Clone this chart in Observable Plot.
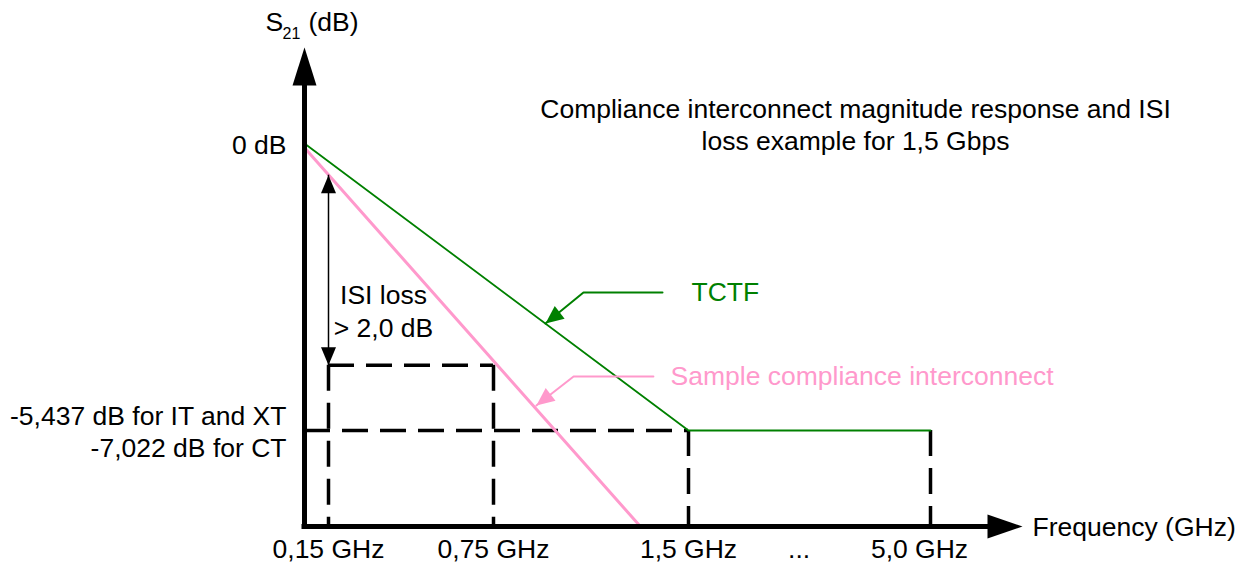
<!DOCTYPE html>
<html>
<head>
<meta charset="utf-8">
<script src="https://cdn.jsdelivr.net/npm/d3@7"></script>
<script src="https://cdn.jsdelivr.net/npm/@observablehq/plot@0.6"></script>
<style>
  html, body { margin: 0; padding: 0; background: #fff; }
</style>
</head>
<body>
<div id="chart"></div>
<script>
// ---- Data (schematic values) ----
// Frequency axis: tick positions (GHz) and their labels ("..." marks the broken axis)
const tickFreqs = [0.15, 0.75, 1.5, 3.1, 5.0];
const tickLabels = ["0,15 GHz", "0,75 GHz", "1,5 GHz", "...", "5,0 GHz"];
// S21 axis ticks (dB) and labels
const yTickValues = [0, -5.437];
const yTickLabels = ["0 dB", "-5,437 dB for IT and XT\n-7,022 dB for CT"];
// TCTF curve
const tctfFreq = [0, 1.5, 5.0];
const tctfDb = [0, -5.437, -5.437];
// Sample compliance interconnect
const sampleFreq = [0, 1.315];
const sampleDb = [-0.08, -7.6];
// ISI loss markers
const isiFreqs = [0.15, 0.75];
const isiTopDb = -0.6;
const isiLevelDb = -4.2;
const floorDb = -5.437;
const axisMinDb = -7.6;
const floorFreqs = [1.5, 5.0];
// Annotation leaders (label end, elbow, arrow tip) in GHz / dB
const tctfLeaderFreq = [1.40, 1.096, 0.95];
const tctfLeaderDb = [-2.822, -2.822, -3.41];
const sampleLeaderFreq = [1.365, 1.058, 0.915];
const sampleLeaderDb = [-4.414, -4.414, -4.963];
const tctfLabel = {freq: 1.543, db: -2.822, text: "TCTF"};
const sampleLabel = {freq: 1.431, db: -4.414, text: "Sample compliance interconnect"};
const isiLabel = {freq: 0.35, db: -3.154, text: "ISI loss\n> 2,0 dB"};
const titleText = "Compliance interconnect magnitude response and ISI\nloss example for 1,5 Gbps";

// ---- Tables built from the arrays ----
const xTicks = tickFreqs.map((f, i) => ({f, label: tickLabels[i]}));
const yTicks = yTickValues.map((v, i) => ({v, label: yTickLabels[i]}));
const tctf = tctfFreq.map((f, i) => ({f, db: tctfDb[i]}));
const sample = sampleFreq.map((f, i) => ({f, db: sampleDb[i]}));
const tctfLeader = tctfLeaderFreq.map((f, i) => ({f, db: tctfLeaderDb[i]}));
const sampleLeader = sampleLeaderFreq.map((f, i) => ({f, db: sampleLeaderDb[i]}));
const lastFreq = tickFreqs[tickFreqs.length - 1];

// ---- Styles ----
const GREEN = "#008000";
const PINK = "#ff99cc";
const FONT = "Liberation Sans, Arial, Helvetica, sans-serif";
const FS = 26.5;
const dash = "26,12";

// filled arrow head pointing up; anchored at tip or at base centre
function head(L, w, anchor) {
  return {
    draw(ctx) {
      const t = anchor === "tip" ? 0 : -L;
      ctx.moveTo(0, t);
      ctx.lineTo(w, t + L);
      ctx.lineTo(-w, t + L);
      ctx.closePath();
    }
  };
}

const chart = Plot.plot({
  width: 1243,
  height: 562,
  marginLeft: 304,
  marginRight: 256,
  marginTop: 85,
  marginBottom: 36,
  style: {fontFamily: FONT, fontSize: FS + "px", background: "#fff", overflow: "visible"},
  x: {type: "linear", domain: [0, 0.15, 0.75, 1.5, 5.0], range: [304, 328, 493, 688, 930], axis: null},
  y: {type: "linear", domain: [axisMinDb, floorDb, 0], range: [526, 430, 143], axis: null},
  marks: [
    // dashed guide lines
    Plot.ruleY([{y: floorDb, x1: 0, x2: floorFreqs[0]}, {y: isiLevelDb, x1: isiFreqs[0], x2: isiFreqs[1]}],
      {y: "y", x1: "x1", x2: "x2", stroke: "black", strokeWidth: 3.5, strokeDasharray: dash}),
    Plot.ruleX([
        ...isiFreqs.map(f => ({x: f, y1: isiLevelDb, y2: axisMinDb})),
        ...floorFreqs.map(f => ({x: f, y1: floorDb, y2: axisMinDb}))
      ],
      {x: "x", y1: "y1", y2: "y2", stroke: "black", strokeWidth: 3.5, strokeDasharray: dash}),
    // curves
    Plot.line(tctf, {x: "f", y: "db", stroke: GREEN, strokeWidth: 1.8}),
    Plot.line(sample, {x: "f", y: "db", stroke: PINK, strokeWidth: 3}),
    // axes
    Plot.ruleX([0], {x: d => d, stroke: "black", strokeWidth: 5, strokeLinecap: "square"}),
    Plot.ruleY([axisMinDb], {y: d => d, stroke: "black", strokeWidth: 5, strokeLinecap: "square"}),
    Plot.dot([0], {x: d => d, frameAnchor: "top", symbol: head(38, 12, "base"), fill: "black", stroke: null}),
    Plot.dot([axisMinDb], {y: d => d, frameAnchor: "right", rotate: 90, symbol: head(35, 12, "base"), fill: "black", stroke: null}),
    // ISI loss double arrow
    Plot.ruleX([isiFreqs[0]], {x: d => d, y1: isiTopDb, y2: isiLevelDb, stroke: "black", strokeWidth: 1.5}),
    Plot.dot([isiTopDb], {x: isiFreqs[0], y: d => d, symbol: head(18, 7.5, "tip"), fill: "black", stroke: null}),
    Plot.dot([isiLevelDb], {x: isiFreqs[0], y: d => d, rotate: 180, symbol: head(18, 7.5, "tip"), fill: "black", stroke: null}),
    Plot.text([isiLabel], {x: "freq", y: "db", text: "text", fill: "black", fontSize: FS, lineHeight: 1.25, textAnchor: "middle", lineAnchor: "middle"}),
    // leaders
    Plot.line(tctfLeader, {x: "f", y: "db", stroke: GREEN, strokeWidth: 2}),
    Plot.dot([tctfLeader[2]], {x: "f", y: "db", rotate: 232, symbol: head(18, 8, "tip"), fill: GREEN, stroke: null}),
    Plot.line(sampleLeader, {x: "f", y: "db", stroke: PINK, strokeWidth: 2}),
    Plot.dot([sampleLeader[2]], {x: "f", y: "db", rotate: 232, symbol: head(18, 8, "tip"), fill: PINK, stroke: null}),
    Plot.text([tctfLabel], {x: "freq", y: "db", text: "text", fill: GREEN, fontSize: FS, textAnchor: "start"}),
    Plot.text([sampleLabel], {x: "freq", y: "db", text: "text", fill: PINK, fontSize: FS, textAnchor: "start"}),
    // tick labels
    Plot.text(xTicks.filter(d => d.f !== lastFreq), {x: "f", text: "label", frameAnchor: "bottom", lineAnchor: "middle", dy: 23, fill: "black", fontSize: FS}),
    Plot.text(xTicks.filter(d => d.f === lastFreq), {x: "f", text: "label", frameAnchor: "bottom", lineAnchor: "middle", dx: -11, dy: 23, fill: "black", fontSize: FS}),
    Plot.text(yTicks, {y: "v", text: "label", frameAnchor: "left", lineAnchor: "middle", dx: -18, textAnchor: "end", fill: "black", fontSize: FS, lineHeight: 1.21}),
    // axis labels
    Plot.text(["Frequency (GHz)"], {text: d => d, frameAnchor: "bottom-right", lineAnchor: "middle", dx: 45, dy: 1, textAnchor: "start", fill: "black", fontSize: FS}),
    Plot.text(["S"], {text: d => d, frameAnchor: "top-left", lineAnchor: "middle", dx: -39, dy: -63, textAnchor: "start", fill: "black", fontSize: FS}),
    Plot.text(["21"], {text: d => d, frameAnchor: "top-left", lineAnchor: "middle", dx: -22, dy: -52, textAnchor: "start", fill: "black", fontSize: 16}),
    Plot.text(["(dB)"], {text: d => d, frameAnchor: "top-left", lineAnchor: "middle", dx: 4, dy: -63, textAnchor: "start", fill: "black", fontSize: FS}),
    // title
    Plot.text([titleText], {text: d => d, frameAnchor: "top-right", lineAnchor: "middle", dx: -132, dy: 38, textAnchor: "middle", fill: "black", fontSize: FS, lineHeight: 1.21})
  ]
});
document.getElementById("chart").appendChild(chart);
</script>
</body>
</html>
